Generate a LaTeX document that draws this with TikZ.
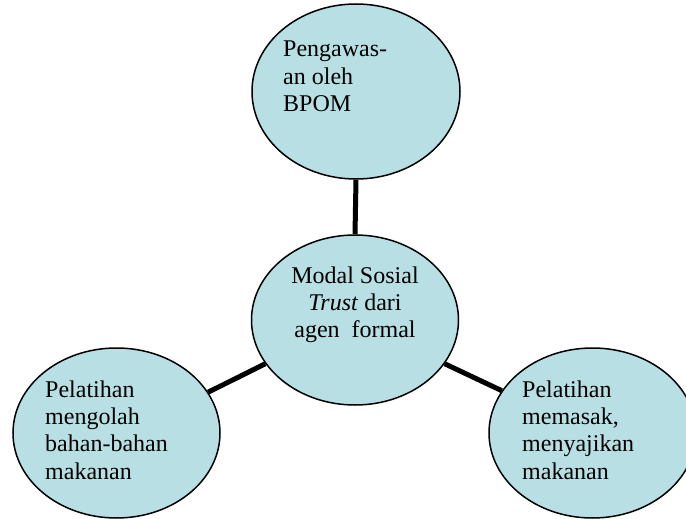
\documentclass[tikz,border=0pt]{standalone}
\usepackage{fontspec}
\setmainfont{Liberation Serif}
\usetikzlibrary{shapes.geometric}
\definecolor{bubble}{HTML}{B8DFE3}
\begin{document}
\begin{tikzpicture}[x=1pt,y=-1pt,
  bubblenode/.style={ellipse,draw=black,line width=1.5pt,fill=bubble,
    minimum width=207pt,minimum height=170pt,inner sep=0pt},
  labeltext/.style={inner sep=0pt,font=\fontsize{24}{27.3}\selectfont},
  link/.style={line width=5pt,black}]
\useasboundingbox (0,0) rectangle (686,519);

% ellipses
\node[bubblenode,minimum width=208pt,minimum height=175pt] (top) at (356,91.5) {};
\node[bubblenode] (ctr) at (355,320) {};
\node[bubblenode] (lft) at (116.5,433) {};
\node[bubblenode] (rgt) at (592.5,433) {};

% connectors
\draw[link] (top.south) -- (ctr.north);
\draw[link] (lft.24.4) -- (ctr.206.3);
\draw[link] (ctr.334.5) -- (rgt.155.1);

% labels (anchored on the baseline of the last line)
\node[labeltext,align=left,anchor=base west] (ttop) at (283,111.3)
  {Pengawas-\\an oleh\\BPOM};
\node[labeltext,align=center,anchor=base] (tctr) at (355,337.8)
  {Modal Sosial\\\textit{Trust} dari\\agen\ \ formal};
\node[labeltext,align=left,anchor=base west] (tlft) at (45,479)
  {Pelatihan\\mengolah\\bahan-bahan\\makanan};
\node[labeltext,align=left,anchor=base west] (trgt) at (522,479)
  {Pelatihan\\memasak,\\menyajikan\\makanan};
\end{tikzpicture}
\end{document}
